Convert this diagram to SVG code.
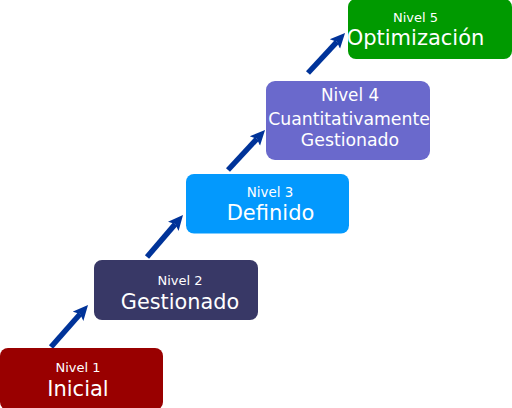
<svg xmlns="http://www.w3.org/2000/svg" width="512" height="408" viewBox="0 0 512 408">
<style>
text{font-family:"DejaVu Sans","Liberation Sans",sans-serif;fill:#ffffff;text-anchor:middle}
.c{stroke:#003399;stroke-width:5.5;fill:none;marker-end:url(#ah)}
</style>
<defs>
<marker id="ah" markerUnits="userSpaceOnUse" markerWidth="18" markerHeight="18" refX="3" refY="8" orient="auto" viewBox="0 0 18 18">
<path d="M0,1 L15,8 L0,15 L3,8 z" fill="#003399"/>
</marker>
</defs>
<rect width="512" height="408" fill="#ffffff"/>
<g id="connectors">
<line class="c" x1="51" y1="347" x2="80.1" y2="314"/>
<line class="c" x1="147" y1="257" x2="175.2" y2="224.1"/>
<line class="c" x1="228" y1="170" x2="256.9" y2="138.8"/>
<line class="c" x1="308" y1="73" x2="336.9" y2="41.8"/>
</g>
<g id="n1">
<rect x="0" y="348" width="163" height="62" rx="8" fill="#990000"/>
<text x="78" y="372" font-size="13">Nivel 1</text>
<text x="78" y="396" font-size="21">Inicial</text>
</g>
<g id="n2">
<rect x="94" y="260" width="164" height="60" rx="8" fill="#383866"/>
<text x="180" y="285" font-size="13">Nivel 2</text>
<text x="180" y="309" font-size="20.8">Gestionado</text>
</g>
<g id="n3">
<rect x="186" y="174" width="163" height="59.5" rx="8" fill="#0399fd"/>
<text x="270" y="197" font-size="13.4">Nivel 3</text>
<text x="270.5" y="220" font-size="21">Definido</text>
</g>
<g id="n4">
<rect x="266" y="81" width="164" height="79" rx="9" fill="#6a69cc"/>
<text x="350" y="101" font-size="16.8">Nivel 4</text>
<text x="349" y="125" font-size="17.3">Cuantitativamente</text>
<text x="350" y="146" font-size="17.3">Gestionado</text>
</g>
<g id="n5">
<rect x="348" y="-1" width="164" height="60" rx="8" fill="#009a00"/>
<text x="415.5" y="22" font-size="13">Nivel 5</text>
<text x="415.5" y="45" font-size="21">Optimización</text>
</g>
</svg>
